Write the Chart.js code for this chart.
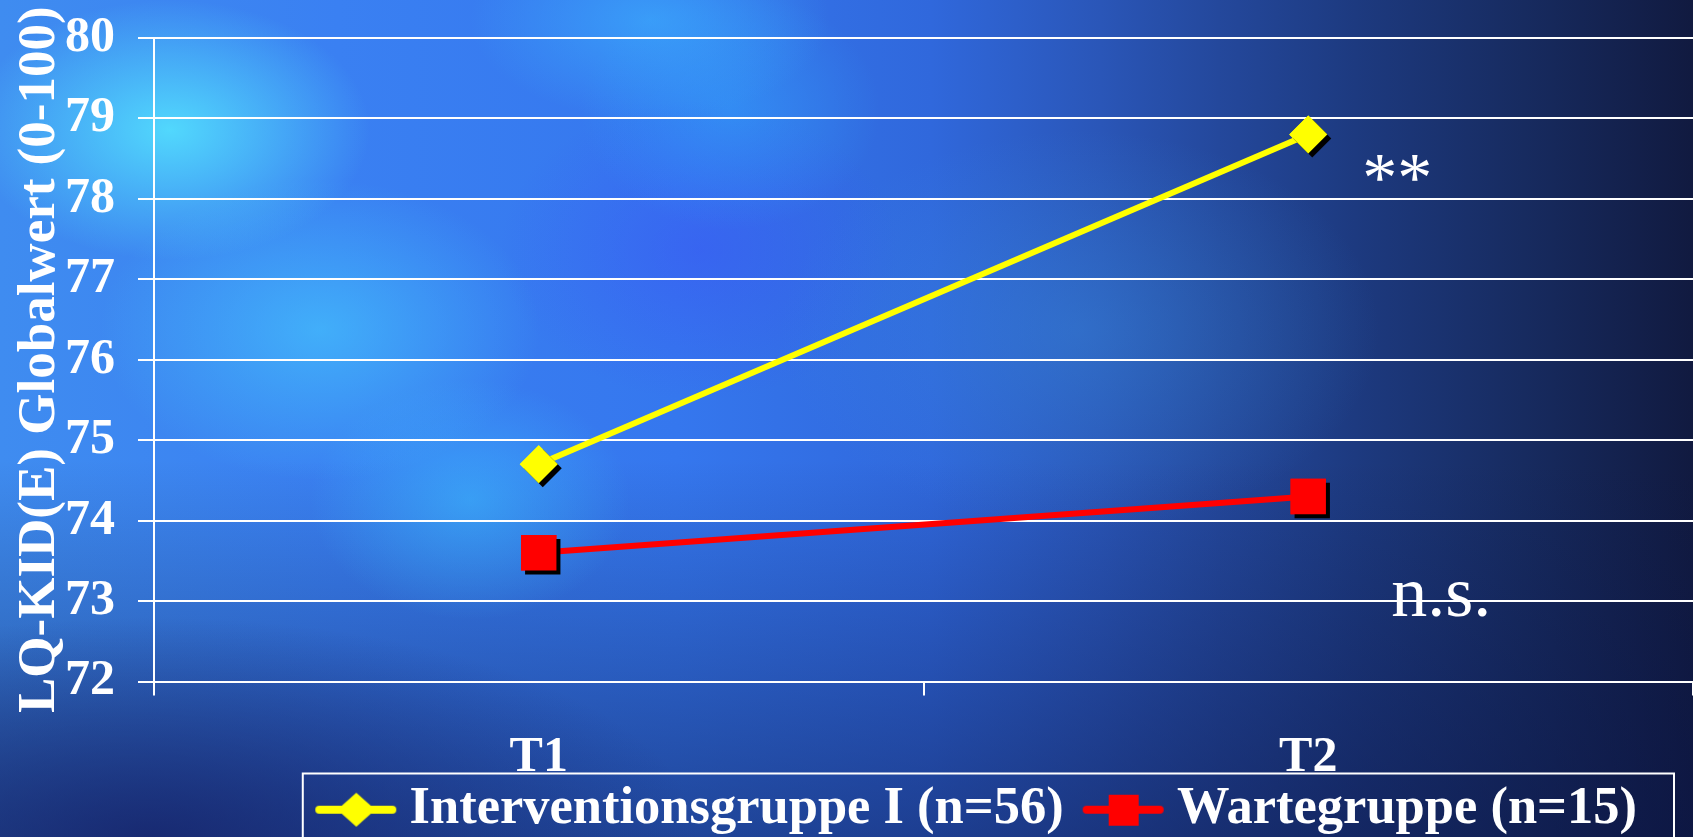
<!DOCTYPE html>
<html>
<head>
<meta charset="utf-8">
<script src="https://cdn.jsdelivr.net/npm/chart.js@4.4.1/dist/chart.umd.min.js"></script>
<style>
html,body{margin:0;padding:0;width:1693px;height:837px;overflow:hidden;}
body{
  background:
    radial-gradient(ellipse 200px 130px at 170px 130px, rgba(85,230,255,0.85), rgba(85,230,255,0) 100%),
    radial-gradient(ellipse 220px 150px at 320px 330px, rgba(70,205,255,0.6), rgba(70,205,255,0) 100%),
    radial-gradient(ellipse 160px 120px at 470px 500px, rgba(60,190,255,0.55), rgba(60,190,255,0) 100%),
    radial-gradient(ellipse 180px 100px at 650px 20px, rgba(60,180,255,0.6), rgba(60,180,255,0) 100%),
    radial-gradient(ellipse 150px 120px at 730px 110px, rgba(50,170,255,0.45), rgba(50,170,255,0) 100%),
    radial-gradient(ellipse 300px 200px at 1080px 330px, rgba(60,150,225,0.35), rgba(60,150,225,0) 100%),
    radial-gradient(ellipse 200px 150px at 700px 250px, rgba(60,80,245,0.45), rgba(60,80,245,0) 100%),
    radial-gradient(ellipse 550px 220px at 150px 837px, rgba(20,30,100,0.75), rgba(20,30,100,0) 100%),
    linear-gradient(to bottom, rgba(10,20,70,0) 55%, rgba(10,20,70,0.5) 100%),
    linear-gradient(to right, #3f8cf0 0%, #3a80f2 20%, #3577ee 40%, #3068dc 55%, #2a56b8 65%, #24489c 72%, #1d3a80 80%, #172b60 90%, #111a40 100%);
}
#wrap{position:relative;width:1693px;height:837px;}
canvas{display:block;}
</style>
</head>
<body>
<div id="wrap"><canvas id="c" width="1693" height="837"></canvas></div>
<script>
// ---- data ----
const categories = ['T1', 'T2'];
const interventionValues = [74.7, 78.8];
const warteValues = [73.6, 74.3];
const seriesNames = ['Interventionsgruppe I (n=56)', 'Wartegruppe (n=15)'];
const yMin = 72, yMax = 80, yStep = 1;
const yAxisTitle = 'LQ-KID(E) Globalwert (0-100)';
const annotationTexts = ['**', 'n.s.'];
const annotationCategory = [1, 1];
const annotationValues = [77.97, 72.82];

const FONT = "'Liberation Serif', 'Times New Roman', serif";
const LEGEND_FONT = 52.5;
const LEGEND_BOX = 86;   // pointStyleWidth
const ICON_W = 120;      // icon canvas width

function legendIcon(color, shape) {
  const c = document.createElement('canvas');
  c.width = ICON_W; c.height = 40;
  const g = c.getContext('2d');
  g.strokeStyle = color; g.lineWidth = 8; g.lineCap = 'round';
  g.beginPath(); g.moveTo(39, 20); g.lineTo(112, 20); g.stroke();
  g.fillStyle = color;
  const cx = 76;
  if (shape === 'diamond') {
    g.beginPath(); g.moveTo(cx, 3); g.lineTo(cx + 19, 20); g.lineTo(cx, 37); g.lineTo(cx - 19, 20); g.closePath(); g.fill();
  } else {
    g.fillRect(cx - 15, 5, 30, 31);
  }
  return c;
}
const legendIcons = [legendIcon('#ffff00', 'diamond'), legendIcon('#ff0000', 'square')];

const markerShadow = {
  id: 'markerShadow',
  afterDatasetDraw(chart, args) {
    const ctx = chart.ctx;
    ctx.save();
    ctx.shadowColor = '#000';
    ctx.shadowOffsetX = 4;
    ctx.shadowOffsetY = 4;
    ctx.shadowBlur = 0;
    args.meta.data.forEach(p => p.draw(ctx, chart.chartArea));
    ctx.restore();
  }
};

const legendPlacement = {
  id: 'legendPlacement',
  afterLayout(chart) {
    const lg = chart.legend;
    if (lg) { lg.right -= 55; }
  },
  afterDraw(chart) {
    const hb = chart.legend.legendHitBoxes;
    if (!hb || !hb.length) return;
    const last = hb[hb.length - 1];
    const ctx = chart.ctx;
    const left = hb[0].left + 5.5;
    const right = last.left + last.width + 37;
    const top = hb[0].top - 10;
    ctx.save();
    ctx.strokeStyle = '#ffffff';
    ctx.lineWidth = 2;
    ctx.strokeRect(left, top, right - left, chart.height - top + 10);
    ctx.restore();
  }
};

const annotationsPlugin = {
  id: 'sigAnnotations',
  afterDatasetsDraw(chart) {
    const ctx = chart.ctx;
    const xs = chart.scales.x, ys = chart.scales.y;
    const dx = [89, 133];
    const sizes = [70, 72];
    ctx.save();
    ctx.fillStyle = '#ffffff';
    ctx.textAlign = 'center';
    ctx.textBaseline = 'alphabetic';
    annotationTexts.forEach((t, i) => {
      ctx.font = sizes[i] + "px " + FONT;
      ctx.fillText(t, xs.getPixelForValue(annotationCategory[i]) + dx[i], ys.getPixelForValue(annotationValues[i]));
    });
    ctx.restore();
  }
};

new Chart(document.getElementById('c'), {
  type: 'line',
  data: {
    labels: categories,
    datasets: [
      {
        label: seriesNames[0],
        data: interventionValues,
        borderColor: '#ffff00',
        backgroundColor: '#ffff00',
        borderWidth: 6,
        pointStyle: 'rectRot',
        pointRadius: 19,
        pointBorderWidth: 0,
        pointBackgroundColor: '#ffff00',
        tension: 0
      },
      {
        label: seriesNames[1],
        data: warteValues,
        borderColor: '#ff0000',
        backgroundColor: '#ff0000',
        borderWidth: 6,
        pointStyle: 'rect',
        pointRadius: 25,
        pointBorderWidth: 0,
        pointBackgroundColor: '#ff0000',
        tension: 0
      }
    ]
  },
  options: {
    responsive: false,
    devicePixelRatio: 1,
    animation: false,
    layout: { autoPadding: false, padding: { top: 38, right: 0, bottom: -9, left: 0 } },
    plugins: {
      tooltip: { enabled: false },
      legend: {
        position: 'bottom',
        align: 'end',
        labels: {
          color: '#ffffff',
          font: { family: FONT, size: LEGEND_FONT, weight: 'bold' },
          usePointStyle: true,
          pointStyleWidth: LEGEND_BOX,
          padding: 1,
          generateLabels(chart) {
            return chart.data.datasets.map((ds, i) => ({
              text: ds.label,
              fillStyle: ds.borderColor,
              strokeStyle: ds.borderColor,
              fontColor: '#ffffff',
              lineWidth: 0,
              pointStyle: legendIcons[i],
              hidden: false,
              datasetIndex: i
            }));
          }
        }
      }
    },
    scales: {
      x: {
        type: 'category',
        offset: true,
        grid: {
          display: true,
          drawOnChartArea: false,
          drawTicks: true,
          tickLength: 14,
          color: '#ffffff',
          lineWidth: 2,
          offset: true
        },
        border: { display: false },
        ticks: {
          color: '#ffffff',
          font: { family: FONT, size: 50, weight: 'bold' },
          padding: 33,
          maxRotation: 0
        },
        afterFit(scale) { scale.height = 101; scale.paddingLeft = 0; scale.paddingRight = 0; }
      },
      y: {
        min: yMin,
        max: yMax,
        ticks: {
          stepSize: yStep,
          color: '#ffffff',
          font: { family: FONT, size: 50, weight: 'bold' },
          padding: 23
        },
        grid: {
          color: '#ffffff',
          lineWidth: 2,
          tickLength: 16,
          drawTicks: true
        },
        border: { display: true, color: '#ffffff', width: 2 },
        title: {
          display: true,
          text: yAxisTitle,
          color: '#ffffff',
          font: { family: FONT, size: 53, weight: 'bold' },
          padding: { top: 9, bottom: 0 }
        },
        afterFit(scale) { scale.width = 154; scale.paddingTop = 0; scale.paddingBottom = 0; }
      }
    }
  },
  plugins: [markerShadow, legendPlacement, annotationsPlugin]
});
</script>
</body>
</html>
